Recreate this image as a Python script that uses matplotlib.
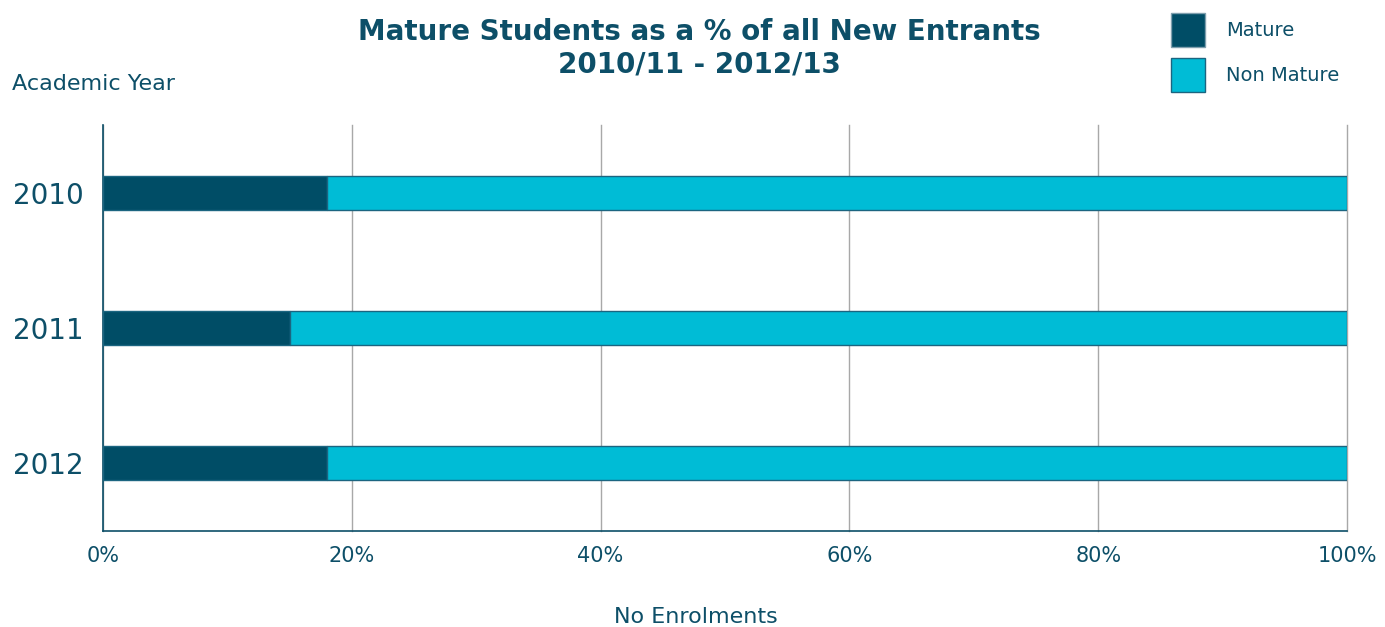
import matplotlib
matplotlib.use("Agg")
import matplotlib.pyplot as plt
from matplotlib.patches import Patch

years = ["2010", "2011", "2012"]
mature = [18, 15, 18]
non_mature = [82, 85, 82]
x_ticks = [0, 20, 40, 60, 80, 100]

INK = "#0d4f68"
MATURE = "#004d66"
NON_MATURE = "#00bcd6"
EDGE = "#1b6580"
GRID = "#a8a8a8"

plt.rcParams["font.family"] = ["DejaVu Sans"]

fig = plt.figure(figsize=(13.85, 6.27), dpi=100)
ax = fig.add_axes([103 / 1385, 1 - 531 / 627, 1244 / 1385, 406 / 627])

pos = list(range(len(years)))
ax.barh(pos, mature, height=0.25, color=MATURE, edgecolor=EDGE, linewidth=1,
        label="Mature", zorder=3)
ax.barh(pos, non_mature, left=mature, height=0.25, color=NON_MATURE,
        edgecolor=EDGE, linewidth=1, label="Non Mature", zorder=3)

ax.set_xlim(0, 100)
ax.set_ylim(2.5, -0.5)
ax.set_yticks(pos)
ax.set_yticklabels(years)
ax.set_xticks(x_ticks)
ax.set_xticklabels([f"{t}%" for t in x_ticks])

ax.xaxis.grid(True, color=GRID, linewidth=1, zorder=0)
ax.set_axisbelow(True)
# keep the 100% gridline whole at the right edge
for gl in ax.get_xgridlines():
    gl.set_clip_on(False)
for s in ("top", "right"):
    ax.spines[s].set_visible(False)
for s in ("left", "bottom"):
    ax.spines[s].set_color(INK)
    ax.spines[s].set_linewidth(1.2)

ax.tick_params(axis="y", length=0, pad=14, labelsize=20, labelcolor=INK)
ax.tick_params(axis="x", length=0, pad=11, labelsize=15, labelcolor=INK)

fig.text(699 / 1385, 1 - 48 / 627,
         "Mature Students as a % of all New Entrants\n2010/11 - 2012/13",
         ha="center", va="center", fontsize=20, fontweight="bold", color=INK,
         linespacing=1.2)
fig.text(12 / 1385, 1 - 84 / 627, "Academic Year", ha="left", va="center",
         fontsize=16, color=INK)
fig.text(696 / 1385, 1 - 617 / 627, "No Enrolments", ha="center", va="center",
         fontsize=16, color=INK)

handles = [Patch(facecolor=MATURE, edgecolor="#7f9fae", label="Mature"),
           Patch(facecolor=NON_MATURE, edgecolor=EDGE, label="Non Mature")]
fig.legend(handles=handles, loc="upper left",
           bbox_to_anchor=(1171 / 1385, 1 - 13 / 627), frameon=False,
           fontsize=14, labelcolor=INK, handlelength=1.75, handleheight=2.31,
           labelspacing=0.57, handletextpad=1.08, borderpad=0, borderaxespad=0)

fig.savefig("out.png", facecolor="white")
